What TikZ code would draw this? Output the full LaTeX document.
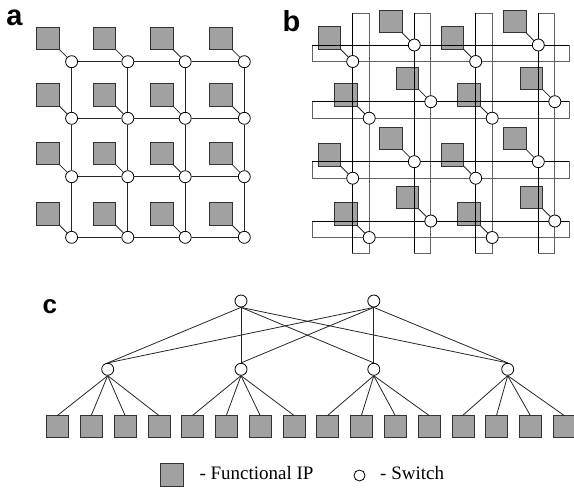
\documentclass[tikz,border=0pt]{standalone}
\usepackage{fontspec}
\setmainfont{Liberation Serif}
\setsansfont{Liberation Sans}
\usetikzlibrary{positioning}

\begin{document}
\begin{tikzpicture}[x=1pt,y=-1pt,
  ipcore/.style={draw=black!80,fill=black!37,minimum size=22.5pt,inner sep=0pt,outer sep=0pt},
  switch/.style={circle,draw,fill=white,minimum size=12pt,inner sep=0pt,line width=.8pt},
  link/.style={draw=black!85,line width=.8pt},
  bar/.style={draw=black!62,line width=.9pt},
  wire/.style={draw=black,line width=.9pt},
  panel/.style={font=\sffamily\bfseries\fontsize{29}{29}\selectfont,anchor=base west,inner sep=0pt}]

  \useasboundingbox (0,0) rectangle (574,488);

  % a: mesh
  \node[panel] (la) at (6.2,25) {a};
  \foreach \c/\x in {0/71.6,1/127.8,2/185.2,3/244.3}
    \foreach \r/\y in {0/61.7,1/118.3,2/176.7,3/237.3} {
      \node[switch] (a\c\r) at (\x,\y) {};
      \node[ipcore,above left=12.5pt and 12.5pt of a\c\r.center] (qa\c\r) {};
      \draw[link] (qa\c\r.south east) -- (a\c\r);
    }
  \foreach \c in {0,...,3}
    \foreach \r/\rr in {0/1,1/2,2/3} {
      \draw[link] (a\c\r) -- (a\c\rr);
      \draw[link] (a\r\c) -- (a\rr\c);
    }

  % b: folded torus
  \node[panel] (lb) at (282.3,31.7) {b};
  \foreach \c/\xl in {0/352.7,1/414.3,2/475.7,3/538.3}
    \foreach \r/\yt in {0/45,1/101.7,2/161.7,3/221} {
      \pgfmathsetmacro\sx{\xl+16.5*mod(\r,2)}
      \pgfmathsetmacro\sy{\yt+16.5*(1-mod(\c,2))}
      \coordinate (bp\c\r) at (\sx,\sy);
      \node[ipcore,above left=12.5pt and 12.5pt of bp\c\r] (qb\c\r) {};
    }
  \foreach \xl in {352.7,414.3,475.7,538.3}
    \draw[bar] (\xl,13.3) rectangle ({\xl+16.5},253);
  \foreach \yt in {45,101.7,161.7,221}
    \draw[bar] (312.3,\yt) rectangle (569,{\yt+16.5});
  \foreach \xl in {352.7,414.3,475.7,538.3}
    \draw[wire] (\xl,13.3) -- (\xl,253);
  \foreach \yt in {45,101.7,161.7,221}
    \draw[wire] (312.3,\yt) -- (569,\yt);
  \foreach \c in {0,...,3}
    \foreach \r in {0,...,3} {
      \node[switch] (b\c\r) at (bp\c\r) {};
      \draw[link] (qb\c\r.south east) -- (b\c\r);
    }

  % c: fat tree
  \node[panel,font=\sffamily\bfseries\fontsize{26}{26}\selectfont] (lc) at (42.5,313) {c};
  \node[switch] (t1) at (241,301) {};
  \node[switch] (t2) at (373.8,301) {};
  \foreach \m/\x in {1/107.7,2/241,3/373.8,4/507.7}
    \node[switch] (m\m) at (\x,369.3) {};
  \foreach \p in {0,...,15}
    \node[ipcore,minimum size=22pt] (p\p) at ({57.5+33.77*\p},426.4) {};
  \foreach \t in {1,2}
    \foreach \m in {1,...,4}
      \draw[link] (t\t.south) -- (m\m.north);
  \foreach \m in {1,...,4}
    \foreach \k in {0,...,3} {
      \pgfmathtruncatemacro\p{4*(\m-1)+\k}
      \draw[link] (m\m.south) -- (p\p.north);
    }

  % key
  \node[ipcore] (keyip) at (171.5,474.8) {};
  \node[anchor=base west,inner sep=0pt,font=\fontsize{19}{19}\selectfont] (keyiptext) at (199.3,479.3) {- Functional IP};
  \node[switch,minimum size=11pt] (keysw) at (359.5,475.5) {};
  \node[anchor=base west,inner sep=0pt,font=\fontsize{19}{19}\selectfont] (keyswtext) at (380,479.3) {- Switch};
\end{tikzpicture}
\end{document}
